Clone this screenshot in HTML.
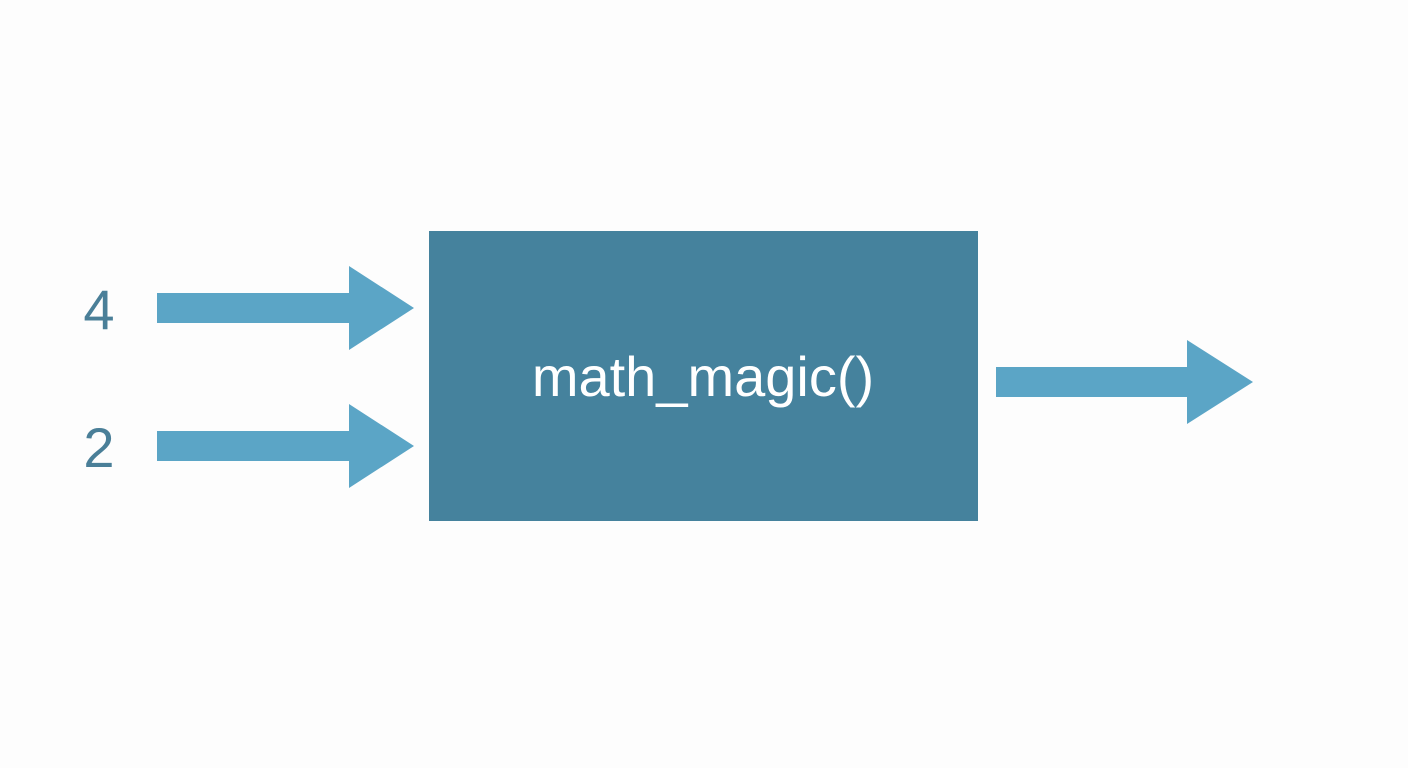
<!DOCTYPE html>
<html><head><style>
html,body{margin:0;padding:0;background:#fdfdfd;width:1408px;height:768px;overflow:hidden;font-family:"Liberation Sans",sans-serif;}
</style></head><body>
<svg width="1408" height="768" viewBox="0 0 1408 768" xmlns="http://www.w3.org/2000/svg">
<rect width="1408" height="768" fill="#fdfdfd"/>
<rect x="429" y="231" width="549" height="290" fill="#45829d"/>
<text x="703" y="396" font-family="Liberation Sans, sans-serif" font-size="56" fill="#ffffff" text-anchor="middle">math_magic()</text>
<g fill="#5ba5c6">
<polygon points="157,293 349,293 349,266 414,308 349,350 349,323 157,323"/>
<polygon points="157,431 349,431 349,404 414,446 349,488 349,461 157,461"/>
<polygon points="996,367 1187,367 1187,340 1253,382 1187,424 1187,397 996,397"/>
</g>
<text x="99" y="329" font-family="Liberation Sans, sans-serif" font-size="56" fill="#4a7f98" text-anchor="middle">4</text>
<text x="99" y="467" font-family="Liberation Sans, sans-serif" font-size="56" fill="#4a7f98" text-anchor="middle">2</text>
</svg>
</body></html>
